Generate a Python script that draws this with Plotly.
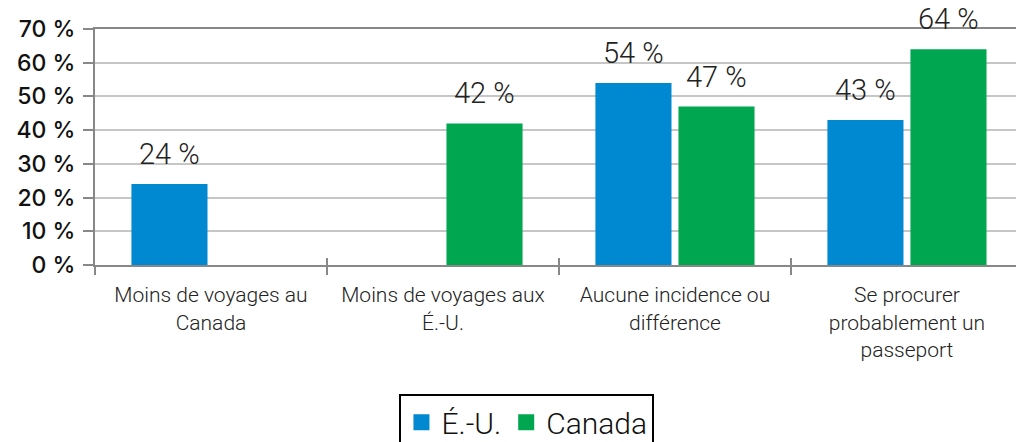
import plotly.graph_objects as go

categories = [
    "Moins de voyages au<br>Canada",
    "Moins de voyages aux<br>É.-U.",
    "Aucune incidence ou<br>différence",
    "Se procurer<br>probablement un<br>passeport",
]
us_values = [24, None, 54, 43]
ca_values = [None, 42, 47, 64]
series_names = ["É.-U.", "Canada"]
colors = ["#0088D1", "#00A650"]
y_ticks = [0, 10, 20, 30, 40, 50, 60, 70]
y_tick_labels = [f"{v} %" for v in y_ticks]

fig = go.Figure()
for name, vals, col in zip(series_names, [us_values, ca_values], colors):
    fig.add_trace(go.Bar(
        x=categories, y=vals, name=name, showlegend=False,
        marker=dict(color=col, line=dict(width=0)),
    ))
# legend entries with larger square swatches
for name, col in zip(series_names, colors):
    fig.add_trace(go.Scatter(
        x=[None], y=[None], name=name, mode="markers",
        marker=dict(symbol="square", size=16, color=col), hoverinfo="skip",
    ))

# value labels
for vals, shift in [(us_values, -41.5), (ca_values, 41.5)]:
    for i, v in enumerate(vals):
        if v is None:
            continue
        fig.add_annotation(
            x=categories[i], y=v, xref="x", yref="y", text=f"{v} %", showarrow=False,
            xshift=shift, yshift=11, yanchor="bottom",
            font=dict(family="Roboto", size=29, color="#222", weight=300),
        )

# overlay axis for the upward half of the category separator ticks
boundaries = [i - 0.5 for i in range(len(categories) + 1)]
fig.add_trace(go.Scatter(x=[None], y=[None], xaxis="x2", yaxis="y", mode="markers",
                         showlegend=False, hoverinfo="skip"))

fig.update_layout(
    width=1016, height=442,
    margin=dict(l=95, r=0, t=29, b=177, autoexpand=False),
    paper_bgcolor="white", plot_bgcolor="white",
    barmode="group", bargap=0.284, bargroupgap=0.084,
    showlegend=True,
    legend=dict(
        orientation="h", x=0.469, xanchor="center", y=-0.548, yanchor="top",
        bordercolor="black", borderwidth=2,
        font=dict(family="Roboto", size=30, color="#111", weight=300),
        itemsizing="trace", tracegroupgap=0,
    ),
    xaxis=dict(
        type="category", range=[-0.5, 3.47], automargin=False,
        tickson="boundaries", ticks="outside", ticklen=8, tickwidth=2,
        tickcolor="#888", showline=True, linecolor="#888", linewidth=2,
        mirror=True, showgrid=False, zeroline=False,
        tickfont=dict(family="Roboto", size=21, color="#222", weight=300),
        ticklabelstandoff=10,
    ),
    xaxis2=dict(
        overlaying="x", side="bottom", anchor="y", range=[-0.5, 3.47],
        tickmode="array", tickvals=boundaries, automargin=False,
        ticks="inside", ticklen=7, tickwidth=2,
        tickcolor="#888", showline=False, showgrid=False, zeroline=False,
        showticklabels=False,
    ),
    yaxis=dict(
        range=[0, 70], tickmode="array", tickvals=y_ticks, ticktext=y_tick_labels,
        ticks="outside", ticklen=10, tickwidth=2, tickcolor="#888", automargin=False,
        showline=True, linecolor="#888", linewidth=2,
        showgrid=True, gridcolor="#C6C6C6", gridwidth=2, zeroline=False,
        tickfont=dict(family="Inter", size=23, color="#111", weight=500),
        ticklabelstandoff=3,
    ),
)

fig.write_html("out.html", config={"displayModeBar": False},
               post_script="document.body.style.margin='0';")
